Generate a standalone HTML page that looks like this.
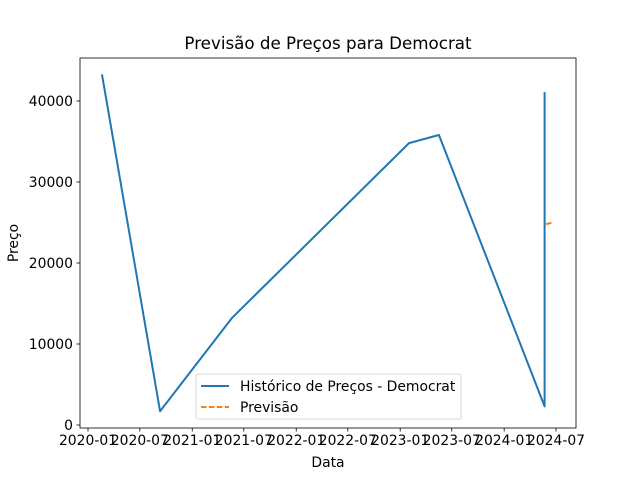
<!DOCTYPE html>
<html><head><meta charset="utf-8"><style>
body{margin:0;background:#fff}
svg{display:block;font-family:"DejaVu Sans","Liberation Sans",sans-serif}
</style></head><body>
<svg id="chart" width="640" height="480" viewBox="0 0 640 480"></svg>
<script>
const histDates=["2020-02-19","2020-09-10","2021-05-20","2023-02-01","2023-05-17","2024-05-22","2024-05-22"];
const histValues=[43300,1700,13200,34800,35800,2300,41100];
const fcDates=["2024-05-27","2024-06-20"];
const fcValues=[24800,25000];
const yTicks=[0,10000,20000,30000,40000];
const xTicks=["2020-01","2020-07","2021-01","2021-07","2022-01","2022-07","2023-01","2023-07","2024-01","2024-07"];

const NS="http://www.w3.org/2000/svg";
const svg=document.getElementById('chart');
const L=80,R=576,T=58,B=428;
const d0=Date.parse("2020-01-01"),d1=Date.parse("2024-07-01");
function xs(d){return 88+(Date.parse(d)-d0)/(d1-d0)*468;}
function ys(v){return 425-v/10000*81;}
function el(tag,attrs,text){const e=document.createElementNS(NS,tag);for(const k in attrs)e.setAttribute(k,attrs[k]);if(text!==undefined)e.textContent=text;svg.appendChild(e);return e;}

let e=el('rect',{x:L,y:T,width:R-L,height:B-T,fill:'none',stroke:'#000','stroke-width':0.8});



yTicks.forEach(v=>{
  const y=ys(v);
  let t=el('line',{x1:L-3.5,x2:L,y1:y,y2:y,stroke:'#000','stroke-width':0.8});
  
  
  let l=el('text',{x:L-7,y:y+5,'text-anchor':'end','font-size':13.9,fill:'#000'},String(v));
  
  
});
xTicks.forEach(s=>{
  const x=xs(s+"-01");
  let t=el('line',{x1:x,x2:x,y1:B,y2:B+3.5,stroke:'#000','stroke-width':0.8});
  
  
  let l=el('text',{x:x,y:B+17,'text-anchor':'middle','font-size':13.9,fill:'#000'},s);
  
  
});

let hp=histDates.map((d,i)=>xs(d)+','+ys(histValues[i])).join(' ');
let h=el('polyline',{points:hp,fill:'none',stroke:'#1f77b4','stroke-width':2,'stroke-linejoin':'round'});


let fp=fcDates.map((d,i)=>xs(d)+','+ys(fcValues[i])).join(' ');
let f=el('polyline',{points:fp,fill:'none',stroke:'#ff7f0e','stroke-width':2,'stroke-dasharray':'5.5,2.4'});



let title=el('text',{x:328,y:49,'text-anchor':'middle','font-size':16.7,fill:'#000'},'Previsão de Preços para Democrat');


let xt=el('text',{x:328,y:467,'text-anchor':'middle','font-size':13.9,fill:'#000'},'Data');


let yt=el('text',{x:18,y:243,'text-anchor':'middle','font-size':13.9,fill:'#000',transform:'rotate(-90 18 243)'},'Preço');



let lg=el('rect',{x:196,y:374,width:265,height:45,rx:2,fill:'#fff','fill-opacity':0.8,stroke:'#ccc','stroke-width':0.8});


let l1=el('line',{x1:201,x2:229,y1:386,y2:386,stroke:'#1f77b4','stroke-width':2});


let t1=el('text',{x:240,y:391,'font-size':13.9,fill:'#000'},'Histórico de Preços - Democrat');


let l2=el('line',{x1:201,x2:229,y1:407,y2:407,stroke:'#ff7f0e','stroke-width':2,'stroke-dasharray':'5.5,2.4'});


let t2=el('text',{x:240,y:412,'font-size':13.9,fill:'#000'},'Previsão');


</script>
</body></html>
